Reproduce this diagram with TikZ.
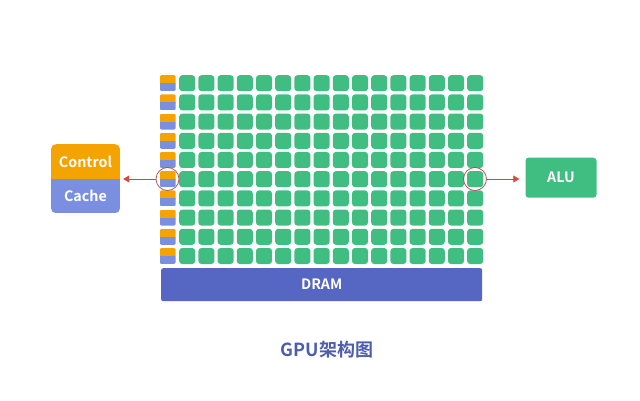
\documentclass[tikz,border=0pt]{standalone}
\usepackage{fontspec}
\setmainfont{Noto Sans CJK SC}[BoldFont={Noto Sans CJK SC Bold}]
\usetikzlibrary{arrows.meta}
\definecolor{cgreen}{HTML}{40BE82}
\definecolor{corange}{HTML}{F5A300}
\definecolor{cblue}{HTML}{7B8FE0}
\definecolor{cdram}{HTML}{5566C3}
\definecolor{ctitle}{HTML}{4C5DB0}
\definecolor{cred}{HTML}{E0443E}
\definecolor{ccirc}{HTML}{B5494B}
\tikzset{
  cell/.style={anchor=north west, minimum width=16pt, minimum height=16pt, inner sep=0pt, rounded corners=3pt, fill=cgreen},
  twotone/.style={path picture={
      \fill[corange, sharp corners] (path picture bounding box.north west) rectangle ([yshift=-0.3pt]path picture bounding box.east);
      \fill[cblue, sharp corners] (path picture bounding box.west) rectangle (path picture bounding box.south east);}},
  small/.style={anchor=north west, minimum width=16pt, minimum height=16pt, inner sep=0pt, rounded corners=1.5pt, twotone},
  lbl/.style={text=white, font=\bfseries\fontsize{14.3}{16}\selectfont, inner sep=0pt},
  arr/.style={draw=cred, line width=0.8pt, -{Triangle[length=6pt,width=7pt]}},
  circ/.style={circle, draw=ccirc, line width=0.7pt, minimum size=23pt, inner sep=0pt},
}
\begin{document}
\begin{tikzpicture}[x=1pt,y=-1pt]
\useasboundingbox (0,0) rectangle (640,401);
\fill[white] (0,0) rectangle (640,401);
% grid
\foreach \i in {0,...,9}{
  \node[small] (s\i) at (159.5,{75+19.2*\i}) {};
  \foreach \j in {0,...,15}{
    \node[cell] (g\i-\j) at ({179+19.2*\j},{75+19.2*\i}) {};
  }
}
% DRAM
\node[fill=cdram, rounded corners=2pt, minimum width=321pt, minimum height=33pt, inner sep=0pt] (dram) at (321.7,284.7) {};
\node[lbl] (dramt) at (dram.center) {DRAM};
% Control / Cache
\node[minimum width=69pt, minimum height=69pt, inner sep=0pt, rounded corners=5pt, twotone] (cc) at (85.5,178.7) {};
\node[lbl] (ctl) at (85.5,162) {Control};
\node[lbl] (cache) at (85.5,195.5) {Cache};
% ALU
\node[fill=cgreen, rounded corners=3pt, minimum width=71pt, minimum height=40pt, inner sep=0pt] (alu) at (561,177.7) {};
\node[lbl] (alut) at (alu.center) {ALU};
% circles
\node[circ] (lc) at (167.5,179) {};
\node[circ] (rc) at (475,179) {};
% arrows
\draw[arr, shorten >=3pt] (lc.west) -- (cc.east |- lc.west);
\draw[arr, shorten >=6pt] (rc.east) -- (alu.west |- rc.east);
% title
\node[text=ctitle, font=\bfseries\fontsize{18}{20}\selectfont, inner sep=0pt] (title) at (327,350) {GPU架构图};
\end{tikzpicture}
\end{document}
